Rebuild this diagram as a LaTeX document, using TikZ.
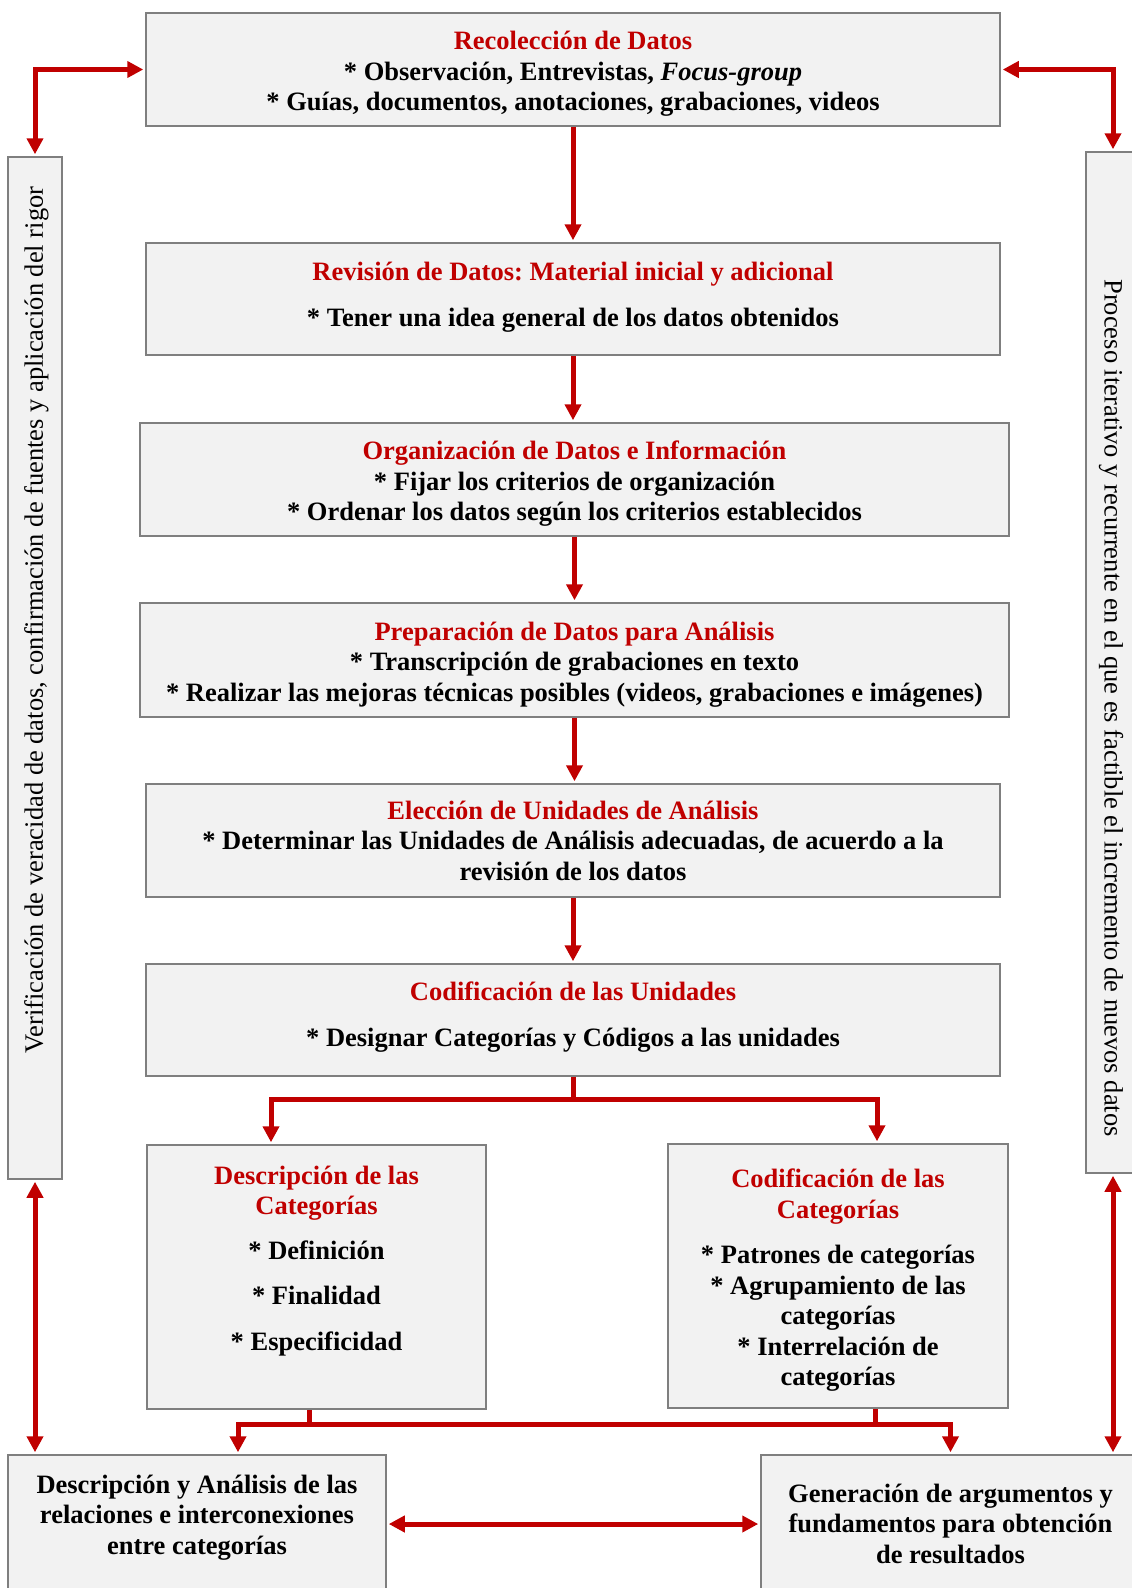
\documentclass[tikz,border=0pt]{standalone}
\usepackage{fontspec}
\setmainfont{Liberation Serif}
\usepackage{xcolor}
\usetikzlibrary{arrows.meta}
\definecolor{deepred}{HTML}{C00000}
\definecolor{boxgray}{HTML}{F2F2F2}
\definecolor{edgegray}{HTML}{7F7F7F}
\frenchspacing

\begin{document}
\begin{tikzpicture}[x=1pt, y=-1pt,
      type-step/.style={rectangle, draw=edgegray, fill=boxgray, line width=2.5pt, inner sep=0pt, align=center, font=\fontsize{26.5}{30.5}\selectfont\bfseries},
      type-side/.style={rectangle, draw=edgegray, fill=boxgray, line width=2.5pt, minimum width=54pt},
      type-note/.style={inner sep=0pt, font=\fontsize{26.5}{30.5}\selectfont},
      type-link/.style={draw=deepred, line width=5pt},
      link-to/.style={type-link, -{Triangle[length=16pt,width=16pt]}, shorten >=1.5pt},
      link-both/.style={type-link, {Triangle[length=16pt,width=16pt]}-{Triangle[length=16pt,width=16pt]}, shorten >=1.5pt, shorten <=1.5pt}
    ]
      \useasboundingbox (0,0) rectangle (1132,1588);

      \node[type-step, minimum width=854pt, minimum height=113pt] (collect) at (573,69.5)
        {\rule{0pt}{27pt}\textcolor{deepred}{Recolección de Datos}\\
         * Observación, Entrevistas, \textit{Focus-group}\\
         * Guías, documentos, anotaciones, grabaciones, videos};
      \node[type-step, minimum width=854pt, minimum height=112pt] (review) at (573,299)
        {\textcolor{deepred}{Revisión de Datos: Material inicial y adicional}\\[16pt]
         * Tener una idea general de los datos obtenidos\\[-21pt]
         \mbox{}};
      \node[type-step, minimum width=869pt, minimum height=113pt] (organize) at (574.5,479.5)
        {\rule{0pt}{27pt}\textcolor{deepred}{Organización de Datos e Información}\\
         * Fijar los criterios de organización\\
         * Ordenar los datos según los criterios establecidos};
      \node[type-step, minimum width=869pt, minimum height=114pt] (prepare) at (574.5,660)
        {\rule{0pt}{27pt}\textcolor{deepred}{Preparación de Datos para Análisis}\\
         * Transcripción de grabaciones en texto\\
         * Realizar las mejoras técnicas posibles (videos, grabaciones e imágenes)};
      \node[type-step, minimum width=854pt, minimum height=113pt] (choose) at (573,840.5)
        {\textcolor{deepred}{Elección de Unidades de Análisis}\\
         * Determinar las Unidades de Análisis adecuadas, de acuerdo a la\\
         revisión de los datos};
      \node[type-step, minimum width=854pt, minimum height=112pt] (codeunits) at (573,1020)
        {\textcolor{deepred}{Codificación de las Unidades}\\[16pt]
         * Designar Categorías y Códigos a las unidades\\[-19pt]
         \mbox{}};
      \node[type-step, minimum width=339pt, minimum height=264pt] (desc) at (316.5,1277)
        {\textcolor{deepred}{Descripción de las}\\
         \textcolor{deepred}{Categorías}\\[14pt]
         * Definición\\[15pt]
         * Finalidad\\[15pt]
         * Especificidad\\[7pt]
         \mbox{}};
      \node[type-step, minimum width=340pt, minimum height=264pt] (codecat) at (838,1276)
        {\rule{0pt}{27pt}\textcolor{deepred}{Codificación de las}\\
         \textcolor{deepred}{Categorías}\\[15pt]
         * Patrones de categorías\\
         * Agrupamiento de las\\
         categorías\\
         * Interrelación de\\
         categorías};
      \node[type-step, minimum width=378pt, minimum height=150pt] (relate) at (197,1530)
        {Descripción y Análisis de las\\
         relaciones e interconexiones\\
         entre categorías\\[0pt]
         \mbox{}};
      \node[type-step, minimum width=379pt, minimum height=150pt] (results) at (950.5,1530)
        {Generación de argumentos y\\
         fundamentos para obtención\\
         de resultados\\[-18pt]
         \mbox{}};

      \node[type-side, minimum height=1022pt] (verify) at (35,668) {};
      \node[type-side, minimum height=1021pt] (iterate) at (1113,662.5) {};
      \node[type-note, rotate=90] (verify-txt) at (36.5,620)
        {Verificación de veracidad de datos, confirmación de fuentes y aplicación del rigor};
      \node[type-note, rotate=-90] (iterate-txt) at (1111,708)
        {Proceso iterativo y recurrente en el que es factible el incremento de nuevos datos};

      \draw[link-to] (collect.south) -- (review.north);
      \draw[link-to] (review.south) -- (review.south |- organize.north);
      \draw[link-to] (organize.south) -- (organize.south |- prepare.north);
      \draw[link-to] (prepare.south) -- (prepare.south |- choose.north);
      \draw[link-to] (choose.south) -- (codeunits.north);

      \draw[type-link] (codeunits.south) -- ++(0,22) coordinate (split);
      \draw[link-to] (split) -| ([xshift=-45.5pt]desc.north);
      \draw[link-to] (split) -| ([xshift=39pt]codecat.north);

      \draw[type-link] ([xshift=-7.5pt]desc.south) -- ++(0,14) coordinate (merge-l);
      \draw[type-link] ([xshift=37pt]codecat.south) -- ++(0,15) coordinate (merge-r);
      \draw[link-to] (merge-r) -| ([xshift=41pt]relate.north);
      \draw[link-to] (merge-l) -| (results.north);

      \draw[link-both] ([yshift=6pt]relate.east) -- ([yshift=6pt]results.west);
      \draw[link-both] (verify.north) |- (collect.west);
      \draw[link-both] (iterate.north) |- (collect.east);
      \draw[link-both] (verify.south) -- (verify.south |- relate.north);
      \draw[link-both] (iterate.south) -- (iterate.south |- results.north);
    \end{tikzpicture}
\end{document}
